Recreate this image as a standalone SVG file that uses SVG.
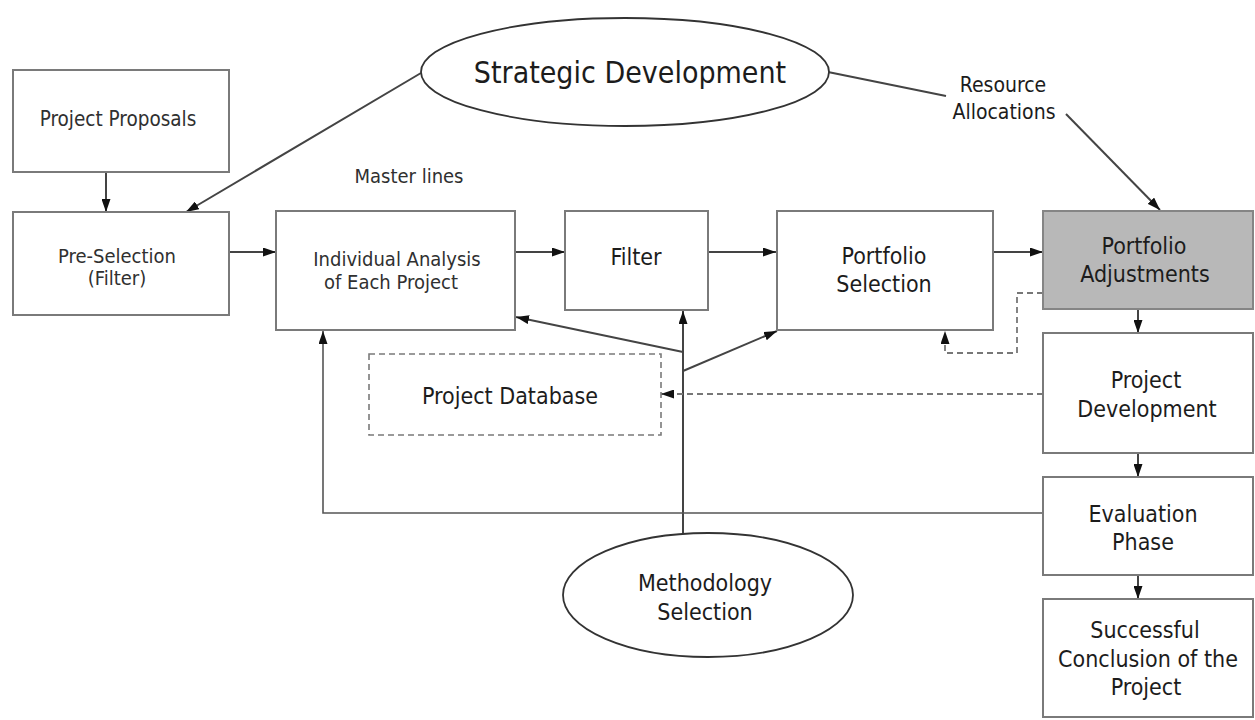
<svg xmlns="http://www.w3.org/2000/svg" width="1255" height="720" viewBox="0 0 1255 720">
<style>
  .box { fill: #ffffff; stroke: #7a7a7a; stroke-width: 2; }
  .dbox { fill: #ffffff; stroke: #7a7a7a; stroke-width: 1.6; stroke-dasharray: 6 4; }
  .ell { fill: #ffffff; stroke: #333333; stroke-width: 1.8; }
  .gray { fill: #b8b8b8; stroke: #858585; }
  .ln { fill: none; stroke: #444444; stroke-width: 2; }
  .lnh { fill: none; stroke: #555555; stroke-width: 1.6; }
  .dash { fill: none; stroke: #777777; stroke-width: 1.8; stroke-dasharray: 6 4; }
  text { font-family: "DejaVu Sans Condensed", "DejaVu Sans", sans-serif; font-stretch: condensed; fill: #1c1c1c; text-anchor: middle; }
  .s { font-size: 20px; fill: #303030; }
  .m { font-size: 23px; }
  .l { font-size: 30px; }
</style>
<defs>
  <marker id="ah" viewBox="0 0 13 9" refX="13" refY="4.5" markerWidth="13" markerHeight="9" markerUnits="userSpaceOnUse" orient="auto">
    <path d="M0,0 L13,4.5 L0,9 z" fill="#111111"/>
  </marker>
</defs>

<g id="connectors">
  <line class="ln" x1="106" y1="172" x2="106" y2="212" marker-end="url(#ah)"/>
  <line class="ln" x1="229" y1="252" x2="276" y2="252" marker-end="url(#ah)"/>
  <line class="ln" x1="515" y1="252" x2="565" y2="252" marker-end="url(#ah)"/>
  <line class="ln" x1="708" y1="252" x2="776" y2="252" marker-end="url(#ah)"/>
  <line class="ln" x1="993" y1="252" x2="1043" y2="252" marker-end="url(#ah)"/>
  <line class="ln" x1="1138" y1="310" x2="1138" y2="333" marker-end="url(#ah)"/>
  <line class="ln" x1="1138" y1="453" x2="1138" y2="477" marker-end="url(#ah)"/>
  <line class="ln" x1="1138" y1="575" x2="1138" y2="599" marker-end="url(#ah)"/>
  <line class="ln" x1="421" y1="73" x2="186" y2="212" marker-end="url(#ah)"/>
  <line class="ln" x1="828" y1="72" x2="946" y2="96"/>
  <line class="ln" x1="1066" y1="114" x2="1160" y2="210" marker-end="url(#ah)"/>
  <line class="ln" x1="683" y1="533" x2="683" y2="311" marker-end="url(#ah)"/>
  <line class="ln" x1="683" y1="352" x2="516" y2="317" marker-end="url(#ah)"/>
  <line class="ln" x1="683" y1="371" x2="777" y2="331" marker-end="url(#ah)"/>
  <polyline class="lnh" points="1043,513 323,513 323,331" marker-end="url(#ah)"/>
  <polyline class="dash" points="1043,293 1017,293 1017,353 945,353 945,331" marker-end="url(#ah)"/>
  <line class="dash" x1="1043" y1="394" x2="661" y2="394" marker-end="url(#ah)"/>
</g>

<g id="strategic">
  <ellipse class="ell" cx="625" cy="72" rx="204" ry="54"/>
  <text class="l" x="630" y="83">Strategic Development</text>
</g>
<g id="resource-label">
  <text class="m" x="1003" y="92" style="font-size:21px">Resource</text>
  <text class="m" x="1004" y="119" style="font-size:21px">Allocations</text>
</g>
<g id="master-lines">
  <text class="s" x="409" y="183">Master lines</text>
</g>
<g id="proposals">
  <rect class="box" x="13" y="70" width="216" height="102"/>
  <text class="s" x="118" y="126" style="font-size:20.5px">Project Proposals</text>
</g>
<g id="preselection">
  <rect class="box" x="13" y="212" width="216" height="103"/>
  <text class="s" x="117" y="263">Pre-Selection</text>
  <text class="s" x="117" y="285">(Filter)</text>
</g>
<g id="analysis">
  <rect class="box" x="276" y="211" width="239" height="119"/>
  <text class="s" x="397" y="266">Individual Analysis</text>
  <text class="s" x="391" y="289">of Each Project</text>
</g>
<g id="filter">
  <rect class="box" x="565" y="211" width="143" height="99"/>
  <text class="m" x="636" y="265">Filter</text>
</g>
<g id="portfolio-selection">
  <rect class="box" x="777" y="211" width="216" height="119"/>
  <text class="m" x="884" y="264">Portfolio</text>
  <text class="m" x="884" y="292">Selection</text>
</g>
<g id="portfolio-adjustments">
  <rect class="box gray" x="1043" y="211" width="210" height="98"/>
  <text class="m" x="1144" y="254">Portfolio</text>
  <text class="m" x="1145" y="282">Adjustments</text>
</g>
<g id="project-development">
  <rect class="box" x="1043" y="333" width="210" height="120"/>
  <text class="m" x="1146" y="388">Project</text>
  <text class="m" x="1147" y="417">Development</text>
</g>
<g id="evaluation">
  <rect class="box" x="1043" y="477" width="210" height="98"/>
  <text class="m" x="1143" y="522">Evaluation</text>
  <text class="m" x="1143" y="550">Phase</text>
</g>
<g id="conclusion">
  <rect class="box" x="1043" y="599" width="210" height="118"/>
  <text class="m" x="1145" y="638">Successful</text>
  <text class="m" x="1148" y="667">Conclusion of the</text>
  <text class="m" x="1146" y="695">Project</text>
</g>
<g id="database">
  <rect class="dbox" x="369" y="354" width="292" height="81"/>
  <text class="m" x="510" y="404">Project Database</text>
</g>
<g id="methodology">
  <ellipse class="ell" cx="708" cy="595" rx="145" ry="62"/>
  <text class="m" x="705" y="591">Methodology</text>
  <text class="m" x="705" y="620">Selection</text>
</g>
</svg>
